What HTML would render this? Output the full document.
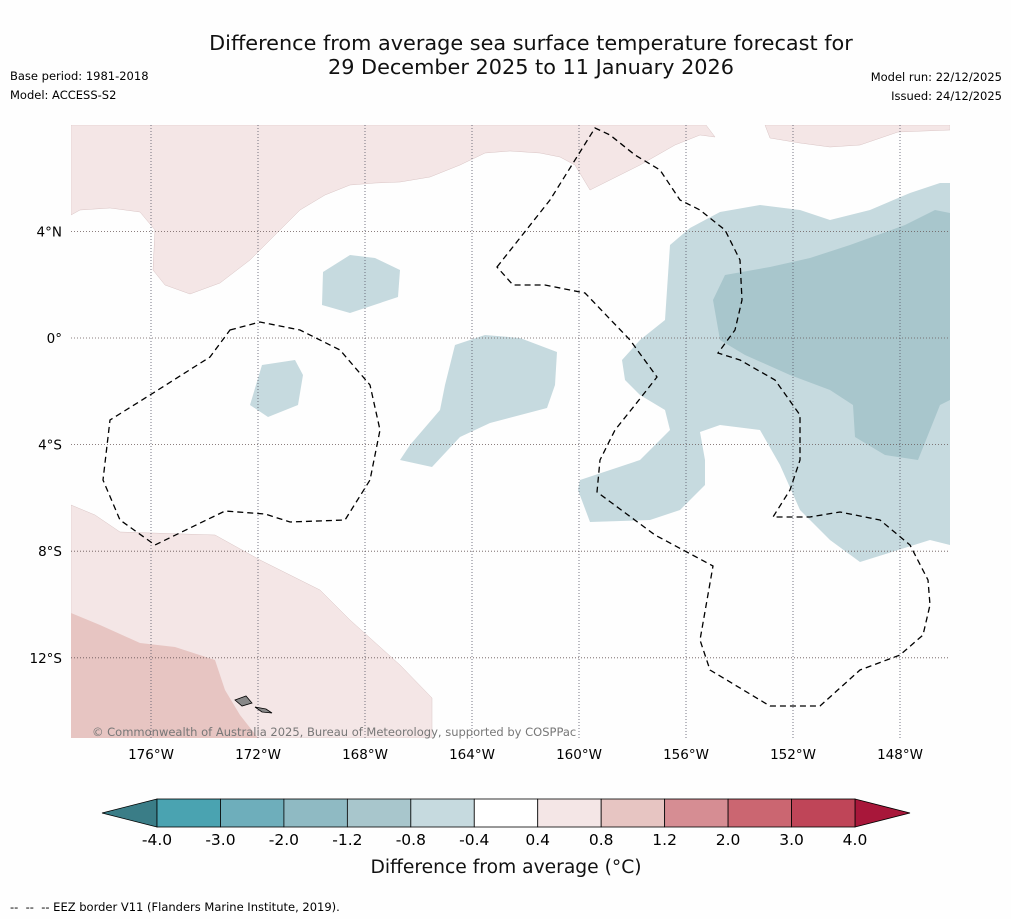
<!DOCTYPE html>
<html><head><meta charset="utf-8"><style>
body{margin:0;background:#fff;font-family:"DejaVu Sans","Liberation Sans",sans-serif;}
#root{position:relative;width:1011px;height:919px;background:#fefefe;}
.t{position:absolute;white-space:nowrap;}
</style></head><body>
<div id="root">
<div class="t" style="left:0;width:1062px;text-align:center;top:31px;font-size:20.8px;line-height:24px;color:#111">Difference from average sea surface temperature forecast for<br>29 December 2025 to 11 January 2026</div>
<div class="t" style="left:10px;top:69px;font-size:11.5px">Base period: 1981-2018</div>
<div class="t" style="left:10px;top:88px;font-size:11.5px">Model: ACCESS-S2</div>
<div class="t" style="right:9px;top:70px;font-size:11.5px">Model run: 22/12/2025</div>
<div class="t" style="right:9px;top:89px;font-size:11.5px">Issued: 24/12/2025</div>
<div class="t" style="left:10px;top:900px;font-size:11.5px">-- &nbsp;-- &nbsp;-- EEZ border V11 (Flanders Marine Institute, 2019).</div>
<svg id="svg" width="1011" height="919" style="position:absolute;left:0;top:0">
<defs><clipPath id="mc"><rect x="71" y="125" width="879" height="613"/></clipPath></defs>
<g clip-path="url(#mc)">
<path fill="#f4e6e6" stroke="#d9c4c4" stroke-width="0.5" d="M71,125 L706,125 L715,137 L700,135 L675,145 L640,165 L590,190 L575,165 L560,157 L540,153 L510,151 L485,153 L460,165 L430,177 L400,182 L375,183 L350,185 L325,195 L300,210 L275,235 L250,260 L220,283 L190,294 L165,285 L153,270 L155,230 L140,212 L110,208 L80,210 L71,215 Z"/>
<path fill="#f4e6e6" stroke="#d9c4c4" stroke-width="0.5" d="M765,125 L770,138 L800,143 L830,147 L860,145 L898,132 L950,130 L950,125 Z"/>
<path fill="#c6dadf" d="M670,245 L690,228 L720,212 L760,205 L800,210 L830,220 L870,210 L910,193 L940,183 L950,183 L950,545 L930,540 L860,562 L830,540 L800,510 L780,465 L760,430 L720,425 L700,432 L705,460 L705,485 L680,510 L650,520 L590,522 L578,490 L580,480 L640,460 L670,430 L665,410 L640,395 L625,380 L622,360 L640,340 L665,320 Z"/>
<path fill="#a8c6cc" d="M725,275 L770,267 L810,258 L850,245 L905,225 L935,210 L950,213 L950,400 L940,405 L918,460 L885,455 L855,437 L853,405 L830,390 L790,375 L745,355 L720,340 L713,300 Z"/>
<path fill="#c6dadf" d="M323,272 L350,255 L375,258 L400,270 L398,297 L350,313 L322,305 Z"/>
<path fill="#c6dadf" d="M262,365 L295,360 L303,375 L298,405 L268,417 L250,405 Z"/>
<path fill="#c6dadf" d="M455,345 L485,335 L520,338 L557,352 L555,385 L547,408 L490,423 L460,437 L432,467 L400,460 L410,445 L440,410 L445,385 Z"/>
<path fill="#f4e6e6" stroke="#d9c4c4" stroke-width="0.5" d="M71,505 L95,515 L120,532 L215,535 L260,560 L320,590 L350,620 L400,665 L432,698 L432,738 L71,738 Z"/>
<path fill="#e7c5c2" d="M71,613 L100,625 L140,643 L175,647 L215,660 L225,690 L240,715 L258,738 L71,738 Z"/>
<g id="grid"></g>
<path fill="none" stroke="#000" stroke-width="1.3" stroke-dasharray="6,4" d="M230,330 L260,322 L300,330 L340,350 L370,385 L380,430 L370,480 L345,520 L290,522 L265,514 L225,511 L155,545 L120,520 L103,480 L110,420 L150,395 L210,357 Z"/>
<path fill="none" stroke="#000" stroke-width="1.3" stroke-dasharray="6,4" d="M497,267 L550,200 L595,128 L610,135 L635,155 L660,170 L680,200 L700,210 L725,230 L740,260 L742,300 L735,330 L718,353 L740,360 L775,380 L800,415 L800,460 L790,490 L773,517 L810,517 L840,512 L880,520 L910,545 L928,580 L930,605 L923,635 L900,655 L860,670 L820,706 L770,706 L710,670 L700,640 L713,566 L655,535 L597,492 L600,460 L615,430 L635,405 L657,377 L630,340 L585,293 L545,285 L513,285 Z"/>
<path fill="#888" stroke="#000" stroke-width="0.8" d="M235,700 L246,696 L252,703 L242,706 Z M255,707 L266,709 L272,713 L262,712 Z"/>
</g>
<text x="92" y="736" font-size="11.5" fill="#777" font-family="DejaVu Sans, sans-serif">© Commonwealth of Australia 2025, Bureau of Meteorology, supported by COSPPac</text>
<g id="axes"></g>
<g id="cbar"></g>
<text x="506" y="873" text-anchor="middle" font-size="18.7" fill="#111" font-family="DejaVu Sans, sans-serif">Difference from average (°C)</text>
</svg>
</div>
<script>
const lonTicks=[176,172,168,164,160,156,152,148];
const latTicks=[4,0,-4,-8,-12];
const cbLevels=["-4.0","-3.0","-2.0","-1.2","-0.8","-0.4","0.4","0.8","1.2","2.0","3.0","4.0"];
const cbColors=["#4aa3b1","#6eaebb","#8fbac3","#a8c6cc","#c6dadf","#ffffff","#f4e6e6","#e7c5c2","#d68d93","#cb6671","#bf4558"];
const NS="http://www.w3.org/2000/svg";
const lonX=w=>151+(176-w)*26.75;
const latY=l=>338-l*26.65;
const grid=document.getElementById('grid'),axes=document.getElementById('axes'),cb=document.getElementById('cbar');
function mk(tag,attrs,parent){const e=document.createElementNS(NS,tag);for(const k in attrs)e.setAttribute(k,attrs[k]);parent.appendChild(e);return e;}
lonTicks.forEach(w=>{const x=lonX(w);
const l=mk('line',{x1:x,x2:x,y1:125,y2:738,stroke:'#556',"stroke-width":0.8,"stroke-dasharray":"1,2"},grid);


const t=mk('text',{x:x,y:759,"text-anchor":"middle","font-size":13.5,"font-family":"DejaVu Sans, sans-serif"},axes);t.textContent=w+'°W';

});
latTicks.forEach(v=>{const y=latY(v);
const l=mk('line',{x1:71,x2:950,y1:y,y2:y,stroke:'#655',"stroke-width":0.8,"stroke-dasharray":"1,2"},grid);


const t=mk('text',{x:62,y:y+5,"text-anchor":"end","font-size":13.5,"font-family":"DejaVu Sans, sans-serif"},axes);t.textContent=v===0?'0°':(Math.abs(v)+'°'+(v>0?'N':'S'));

});
const x0=157,x1=855,y0=799,y1=827,n=cbColors.length,sw=(x1-x0)/n;
const lt=mk('polygon',{points:`${x0},${y0} ${x0},${y1} 102,813`,fill:'#3a7d87',stroke:'#000',"stroke-width":0.8},cb);


const rt=mk('polygon',{points:`${x1},${y0} ${x1},${y1} 910,813`,fill:'#a8173a',stroke:'#000',"stroke-width":0.8},cb);


cbColors.forEach((c,i)=>{const r=mk('rect',{x:x0+i*sw,y:y0,width:sw,height:y1-y0,fill:c,stroke:'#000',"stroke-width":0.8},cb);

});
cbLevels.forEach((s,i)=>{const t=mk('text',{x:x0+i*sw,y:845,"text-anchor":"middle","font-size":15.5,"font-family":"DejaVu Sans, sans-serif"},cb);t.textContent=s;

});
</script>
</body></html>
